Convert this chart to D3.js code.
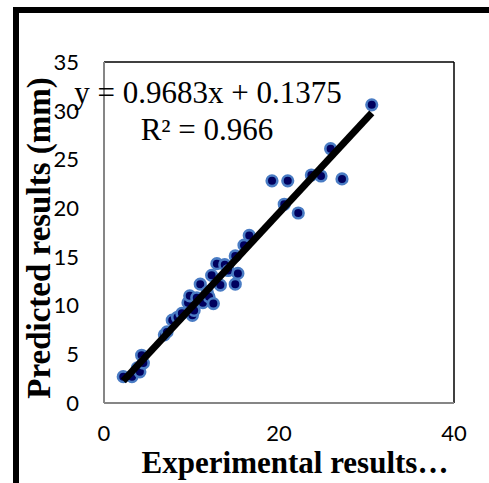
<!DOCTYPE html>
<html><head><meta charset="utf-8">
<script src="https://cdn.jsdelivr.net/npm/d3@7"></script>
<style>body{margin:0;background:#fff}svg{display:block}</style>
</head><body>
<svg id="c" width="489" height="483"></svg>
<script>
const experimental = [2.2,3.2,3.8,4.1,4.3,4.5,6.9,7.2,7.8,8.4,8.9,9.6,9.8,10.1,10.3,10.6,11.0,11.3,11.8,12.0,12.5,12.3,12.9,13.3,13.8,14.2,15.0,15.0,15.3,16.0,16.6,19.2,21.0,20.6,22.2,23.7,24.8,27.2,25.9,30.6];
const predicted    = [2.7,2.7,3.6,3.2,4.9,4.1,7.0,7.3,8.5,8.8,9.2,10.3,11.0,9.0,9.5,10.8,12.2,10.3,11.4,10.9,10.2,13.1,14.3,12.1,14.2,13.6,12.2,15.1,13.3,16.2,17.2,22.8,22.8,20.4,19.5,23.4,23.3,23.0,26.1,30.6];
const xTicks = [0,20,40];
const yTicks = [0,5,10,15,20,25,30,35];
const slope = 0.9683, intercept = 0.1375;
const eqText = "y = 0.9683x + 0.1375";
const r2Text = "R² = 0.966";
const xTitle = "Experimental results…";
const yTitle = "Predicted results (mm)";

const svg = d3.select("#c");
const L=104,R=454,T=62,B=403;
const x = d3.scaleLinear().domain([0,40]).range([L,R]);
const y = d3.scaleLinear().domain([0,35]).range([B,T]);

// outer frame
svg.append("rect").attr("x",16).attr("y",10).attr("width",700).attr("height",700)
  .attr("fill","none").attr("stroke","#000").attr("stroke-width",6);

// plot area border
svg.append("line").attr("x1",L).attr("x2",R).attr("y1",T).attr("y2",T).attr("stroke","#000").attr("stroke-width",1.5);
svg.append("line").attr("x1",R).attr("x2",R).attr("y1",T).attr("y2",B).attr("stroke","#000").attr("stroke-width",1.5);
svg.append("line").attr("x1",L).attr("x2",L).attr("y1",T).attr("y2",B).attr("stroke","#868686").attr("stroke-width",2);
svg.append("line").attr("x1",L).attr("x2",R).attr("y1",B).attr("y2",B).attr("stroke","#868686").attr("stroke-width",2);

// tick labels
svg.append("g").selectAll("text").data(xTicks).join("text")
  .attr("x",d=>x(d)).attr("y",441).attr("text-anchor","middle")
  .attr("font-family","Lato, 'Open Sans', sans-serif").attr("font-size",22).attr("fill","#000").text(d=>d);
svg.append("g").selectAll("text").data(yTicks).join("text")
  .attr("x",79).attr("y",d=>y(d)).attr("dy","0.36em").attr("text-anchor","end")
  .attr("font-family","Lato, 'Open Sans', sans-serif").attr("font-size",22).attr("fill","#000").text(d=>d);

// points
const pts = experimental.map((v,i)=>[v,predicted[i]]);
svg.append("g").selectAll("circle").data(pts).join("circle")
  .attr("cx",d=>x(d[0])).attr("cy",d=>y(d[1])).attr("r",5.3)
  .attr("fill","#00005e").attr("stroke","#4a7cc4").attr("stroke-width",2.6);

// trendline
const xmin = d3.min(experimental), xmax = d3.max(experimental);
svg.append("line").attr("x1",x(xmin)).attr("y1",y(slope*xmin+intercept))
  .attr("x2",x(xmax)).attr("y2",y(slope*xmax+intercept))
  .attr("stroke","#000").attr("stroke-width",7);

// equation
svg.append("text").attr("x",208).attr("y",103).attr("text-anchor","middle")
  .attr("font-family","'Liberation Serif', 'Times New Roman', serif").attr("font-size",31).text(eqText);
svg.append("text").attr("x",207).attr("y",140).attr("text-anchor","middle")
  .attr("font-family","'Liberation Serif', 'Times New Roman', serif").attr("font-size",31).text(r2Text);

// titles
svg.append("text").attr("x",295).attr("y",473).attr("text-anchor","middle")
  .attr("font-family","'Liberation Serif', 'Times New Roman', serif").attr("font-weight","bold").attr("font-size",31).text(xTitle);
svg.append("text").attr("transform","translate(50,238) rotate(-90)").attr("text-anchor","middle")
  .attr("font-family","'Liberation Serif', 'Times New Roman', serif").attr("font-weight","bold").attr("font-size",33).text(yTitle);
</script>
</body></html>
